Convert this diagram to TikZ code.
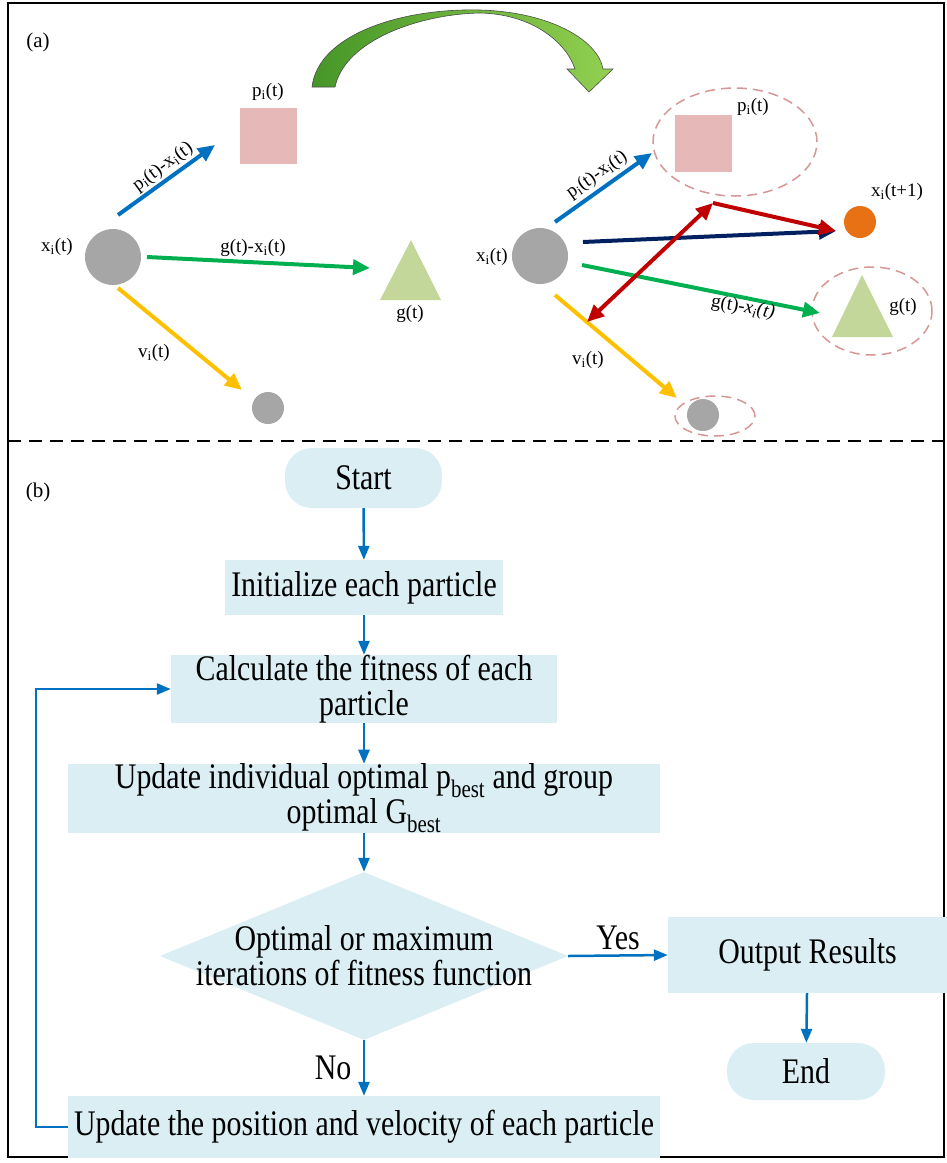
\documentclass[tikz,border=0pt]{standalone}
\usepackage{fontspec}
\setmainfont{Liberation Serif}[FakeStretch=0.83]
\newfontfamily\labelfont{Liberation Serif}
\usetikzlibrary{arrows.meta,shapes.geometric}

\definecolor{pblue}{RGB}{0,112,192}
\definecolor{pgreen}{RGB}{0,176,80}
\definecolor{pyellow}{RGB}{255,192,0}
\definecolor{pgray}{RGB}{166,166,166}
\definecolor{pink}{RGB}{230,185,184}
\definecolor{olive}{RGB}{196,215,155}
\definecolor{porange}{RGB}{232,113,20}
\definecolor{navy}{RGB}{0,32,96}
\definecolor{pred}{RGB}{192,0,0}
\definecolor{ringred}{RGB}{214,150,150}
\definecolor{boxfill}{RGB}{218,238,243}
\definecolor{darkleaf}{RGB}{70,150,40}
\definecolor{lightleaf}{RGB}{146,208,80}

\newcommand\flowfont{\fontsize{36}{35}\selectfont}

\begin{document}
\begin{tikzpicture}[x=1pt,y=-1pt,
    lbl/.style={font=\labelfont\fontsize{19}{19}\selectfont, inner sep=1pt},
    vec/.style={line width=4pt, -{Triangle[length=17pt,width=15pt]}},
    ring/.style={draw=ringred, line width=1.5pt, dash pattern=on 10pt off 6pt},
    flowbox/.style={fill=boxfill, inner sep=0pt, align=center, font=\flowfont},
    terminal/.style={flowbox, rounded corners=27pt},
    decision/.style={fill=boxfill, diamond, inner sep=0pt},
    flowarr/.style={draw=pblue, line width=2.5pt, -{Triangle[length=14pt,width=11pt]}}]
  \useasboundingbox (0,0) rectangle (947,1163);
  \draw[line width=1.5pt] (8,3) rectangle (944,1157);
  \draw[line width=2pt, dash pattern=on 13pt off 8pt] (8,441) -- (944,441);
  \node[lbl, font=\labelfont\fontsize{21}{21}\selectfont] (tagA) at (38,42) {(a)};
  \node[lbl, font=\labelfont\fontsize{21}{21}\selectfont] (tagB) at (38,492) {(b)};

  % (a) left: particle at time t
  \fill[pgray] (113,257) circle (28pt);
  \fill[pink] (240,108) rectangle (297,164);
  \fill[olive] (411,240) -- (441,300) -- (380,300) -- cycle;
  \fill[pgray] (268,408) circle (16pt);
  \draw[vec, pblue] (118,215) -- (215,145);
  \draw[vec, pgreen] (147,257) -- (370,268);
  \draw[vec, pyellow] (118,288) -- (242,390);
  \node[lbl] (xl) at (57,247) {x\textsubscript{i}(t)};
  \node[lbl] (pl) at (268,92) {p\textsubscript{i}(t)};
  \node[lbl] (gl) at (410,314) {g(t)};
  \node[lbl] (vl) at (154,353) {v\textsubscript{i}(t)};
  \node[lbl] (gxl) at (253,248) {g(t)-x\textsubscript{i}(t)};
  \node[lbl, rotate=36] (pxl) at (163,167) {p\textsubscript{i}(t)-x\textsubscript{i}(t)};

  % curved transition arrow
  \shadedraw[left color=darkleaf, right color=lightleaf, draw=black!70, line width=0.6pt]
    (312,87) .. controls (318,35) and (400,8) .. (480,10)
    .. controls (550,12) and (598,40) .. (603,69)
    -- (613,69) -- (589,92) -- (567,69) -- (575,69)
    .. controls (565,40) and (530,14) .. (480,13)
    .. controls (420,14) and (345,40) .. (335,87) -- cycle;

  % (a) right: particle at time t+1
  \draw[ring] (735,142) ellipse (82pt and 54pt);
  \draw[ring] (872,311) ellipse (60pt and 44pt);
  \draw[ring] (715,416) ellipse (40pt and 20pt);
  \fill[pgray] (540,256) circle (28pt);
  \fill[pink] (675,115) rectangle (732,172);
  \fill[olive] (862,275) -- (893,337) -- (832,337) -- cycle;
  \fill[pgray] (703,415) circle (16pt);
  \fill[porange] (860,222) circle (16pt);
  \coordinate (apex) at (713,203);
  \coordinate (hit) at (836,231);
  \coordinate (foot) at (587,322);
  \draw[vec, pblue] (555,222) -- (652,153);
  \draw[vec, navy] (583,242) -- (hit);
  \draw[vec, pgreen] (582,265) -- (820,313);
  \draw[vec, pyellow] (555,295) -- (677,398);
  \draw[vec, pred, {Triangle[length=17pt,width=15pt]}-{Triangle[length=17pt,width=15pt]}] (foot) -- (apex);
  \draw[vec, pred] (apex) -- (hit);
  \node[lbl] (xr) at (492,257) {x\textsubscript{i}(t)};
  \node[lbl] (pr) at (753,107) {p\textsubscript{i}(t)};
  \node[lbl] (xnext) at (897,192) {x\textsubscript{i}(t+1)};
  \node[lbl] (gr) at (903,307) {g(t)};
  \node[lbl] (vr) at (588,360) {v\textsubscript{i}(t)};
  \node[lbl, rotate=35] (pxr) at (597,175) {p\textsubscript{i}(t)-x\textsubscript{i}(t)};
  \node[lbl, rotate=-10] (gxr) at (743,308) {g(t)-\textit{x\textsubscript{i}(t)}};

  % (b) flowchart
  \node[terminal, minimum width=157pt, minimum height=60pt] (start) at (363.5,478) {Start};
  \node[flowbox, minimum width=278pt, minimum height=55pt] (init) at (364,587.5) {Initialize each particle};
  \node[flowbox, minimum width=386pt, minimum height=64pt] (calc) at (364,689) {Calculate the fitness of each\\particle};
  \node[flowbox, minimum width=592pt, minimum height=63pt] (upd) at (364,798.5) {Update individual optimal p\textsubscript{best} and group\\optimal G\textsubscript{best}};
  \node[decision, minimum width=408pt, minimum height=168pt] (check) at (364,956) {};
  \node[font=\flowfont, align=center, inner sep=0pt] (checktext) at (check.center) {Optimal or maximum\\iterations of fitness function};
  \node[flowbox, minimum width=279pt, minimum height=76pt] (out) at (807.5,955) {Output Results};
  \node[terminal, minimum width=158pt, minimum height=57pt] (finish) at (806,1071.5) {End};
  \node[flowbox, minimum width=592pt, minimum height=62pt] (move) at (364,1127) {Update the position and velocity of each particle};

  \draw[flowarr] (start) -- (init);
  \draw[flowarr] (init) -- (calc);
  \draw[flowarr] (calc) -- (upd);
  \draw[flowarr] (upd) -- (check);
  \draw[flowarr] (check.east) -- node[above=1pt, font=\flowfont] {Yes} (out.west);
  \draw[flowarr] (check.south) -- node[left=8pt, font=\flowfont] {No} (move.north);
  \draw[flowarr] (out) -- (finish);
  \draw[flowarr] (move.west) -- ++(-32,0) |- (calc.west);
\end{tikzpicture}
\end{document}
